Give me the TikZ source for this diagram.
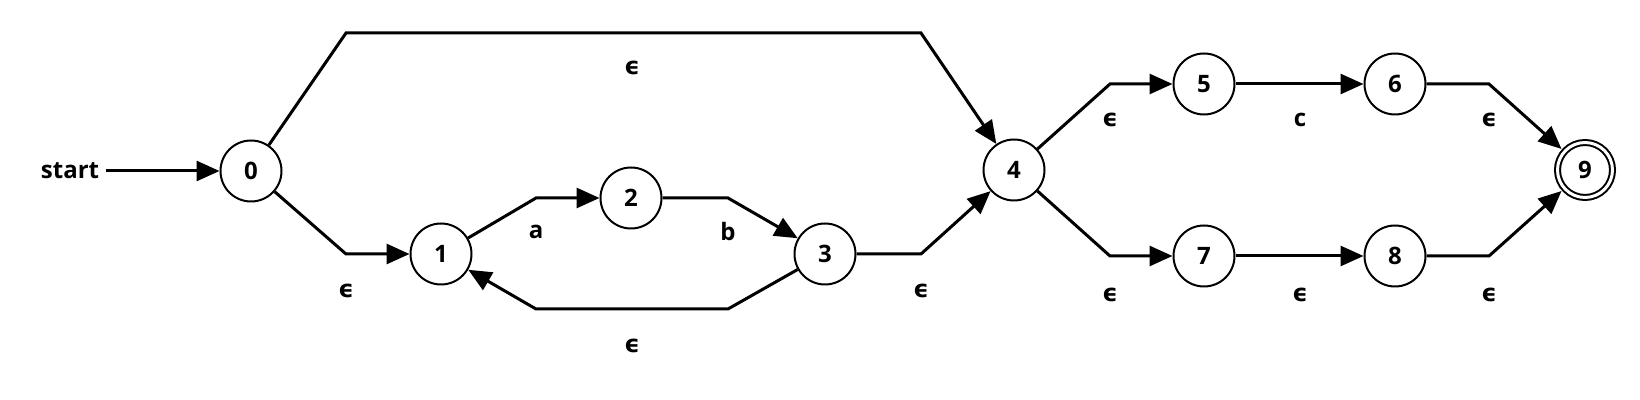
\documentclass[tikz,border=0pt]{standalone}
\usepackage{fontspec}
\setmainfont{Open Sans}
\newfontfamily\epsfont{DejaVu Sans}
\usetikzlibrary{arrows.meta, positioning}

\newcommand{\eps}{{\epsfont\bfseries ϵ}}

\begin{document}
\begin{tikzpicture}[x=0.5pt, y=-0.5pt,
        font=\fontsize{12}{14}\selectfont\bfseries,
        state/.style={circle, draw, line width=1pt, minimum size=30.5pt, inner sep=0pt},
        accept/.style={state, minimum size=27.5pt, double, double distance=1.5pt, outer sep=2pt},
        edge/.style={line width=1.5pt, -{Triangle[length=11.5pt, width=10pt]}}]
            \useasboundingbox (0,0) rectangle (1640,400);

            % states
            \node[state] (s0) at (251,171) {0};
            \node[state] (s1) at (441,254) {1};
            \node[state] (s2) at (631,198) {2};
            \node[state] (s3) at (825,254) {3};
            \node[state] (s4) at (1014,170) {4};
            \node[state] (s5) at (1204,84) {5};
            \node[state] (s6) at (1395,84) {6};
            \node[state] (s7) at (1204,256) {7};
            \node[state] (s8) at (1395,256) {8};
            \node[accept] (s9) at (1585,170) {9};
            \node (start) at (70,171) {start};

            % transitions
            \draw[edge] (start) to (s0);
            \draw[edge] (s0) to (346,33) to (921,33) to (s4);
            \draw[edge] (s0) to (346,254) to (s1);
            \draw[edge] (s1) to (536,198) to (s2);
            \draw[edge] (s2) to (728,198) to (s3);
            \draw[edge] (s3) to (728,309) to (536,309) to (s1);
            \draw[edge] (s3) to (921,254) to (s4);
            \draw[edge] (s4) to (1110,84) to (s5);
            \draw[edge] (s5) to (s6);
            \draw[edge] (s6) to (1489,84) to (s9);
            \draw[edge] (s4) to (1110,256) to (s7);
            \draw[edge] (s7) to (s8);
            \draw[edge] (s8) to (1489,256) to (s9);

            % labels
            \node (l04) at (632,68) {\eps};
            \node (l01) at (346,291) {\eps};
            \node (l12) at (536,232) {a};
            \node (l23) at (728,232) {b};
            \node (l31) at (632,346) {\eps};
            \node (l34) at (921,291) {\eps};
            \node (l45) at (1110,120) {\eps};
            \node (l56) at (1300,120) {c};
            \node (l69) at (1489,120) {\eps};
            \node (l47) at (1110,295) {\eps};
            \node (l78) at (1300,295) {\eps};
            \node (l89) at (1489,295) {\eps};
        \end{tikzpicture}
\end{document}
